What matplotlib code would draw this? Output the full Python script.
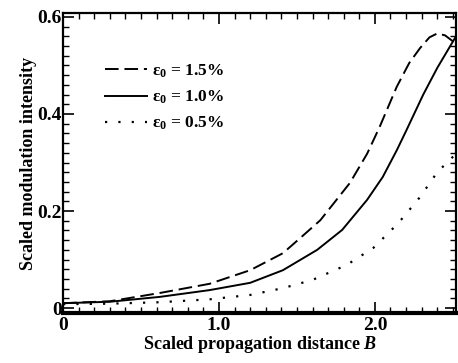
import numpy as np
import matplotlib
matplotlib.use('Agg')
import matplotlib.pyplot as plt
from matplotlib.ticker import MultipleLocator

# curve values
b_15 = [0, 0.3, 0.62, 0.94, 1.2, 1.41, 1.52, 1.65, 1.84, 1.95, 2.03, 2.14, 2.22, 2.29, 2.35, 2.40, 2.45, 2.52]
i_15 = [0.010, 0.014, 0.031, 0.050, 0.078, 0.113, 0.144, 0.181, 0.258, 0.318, 0.373, 0.456, 0.505, 0.536, 0.558, 0.566, 0.562, 0.545]

b_10 = [0, 0.3, 0.62, 0.94, 1.2, 1.41, 1.52, 1.63, 1.79, 1.95, 2.05, 2.14, 2.2, 2.31, 2.40, 2.52]
i_10 = [0.010, 0.013, 0.023, 0.037, 0.052, 0.078, 0.099, 0.120, 0.161, 0.223, 0.270, 0.325, 0.365, 0.440, 0.495, 0.560]

b_05 = [0, 0.3, 0.62, 0.94, 1.2, 1.41, 1.6, 1.82, 1.99, 2.15, 2.29, 2.40, 2.52]
i_05 = [0.008, 0.009, 0.012, 0.018, 0.027, 0.041, 0.058, 0.089, 0.124, 0.175, 0.229, 0.280, 0.318]

labels = ['ε$_\\mathbf{0}$ = 1.5%', 'ε$_\\mathbf{0}$ = 1.0%', 'ε$_\\mathbf{0}$ = 0.5%']

plt.rcParams['font.family'] = ['Liberation Serif', 'DejaVu Serif']
plt.rcParams['font.weight'] = 'bold'
plt.rcParams['axes.labelweight'] = 'bold'
plt.rcParams['mathtext.fontset'] = 'custom'
plt.rcParams['mathtext.rm'] = 'Liberation Serif:bold'
plt.rcParams['mathtext.bf'] = 'Liberation Serif:bold'
plt.rcParams['mathtext.it'] = 'Liberation Serif:italic:bold'

fig = plt.figure(figsize=(4.58, 3.63), dpi=100)
ax = fig.add_axes([0.1376, 0.138, 0.858, 0.826])

ax.plot(b_15, i_15, color='black', lw=1.4, dashes=(7, 3), label=labels[0])
ax.plot(b_10, i_10, color='black', lw=1.4, label=labels[1])
ax.plot(b_05, i_05, color='black', lw=1.6, dashes=(1, 5), label=labels[2])

ax.set_xlim(0, 2.52)
ax.set_ylim(-0.01, 0.608)

ax.xaxis.set_minor_locator(MultipleLocator(0.1))
ax.yaxis.set_minor_locator(MultipleLocator(0.02))
ax.set_xticks([0, 1.0, 2.0])
ax.set_xticklabels(['0', '1.0', '2.0'])
ax.set_yticks([0, 0.2, 0.4, 0.6])
ax.set_yticklabels(['0', '0.2', '0.4', '0.6'])
ax.tick_params(which='both', direction='in', top=True, right=True, labelsize=14)
ax.tick_params(which='major', length=8, width=1.2)
ax.tick_params(which='minor', length=4, width=1)
ax.tick_params(axis='x', pad=3)
ax.tick_params(axis='y', pad=1)

for s in ['left', 'top', 'right']:
    ax.spines[s].set_linewidth(1.6)
ax.spines['bottom'].set_linewidth(3)

ax.set_xlabel('Scaled propagation distance $B$', fontsize=13, labelpad=0)
ax.set_ylabel('Scaled modulation intensity', fontsize=13, labelpad=0)

ax.legend(loc='upper left', bbox_to_anchor=(0.067, 0.887), frameon=False,
          fontsize=12.5, handlelength=2.4, handletextpad=0.3, labelspacing=0.5)

plt.savefig('out.png', dpi=100)
